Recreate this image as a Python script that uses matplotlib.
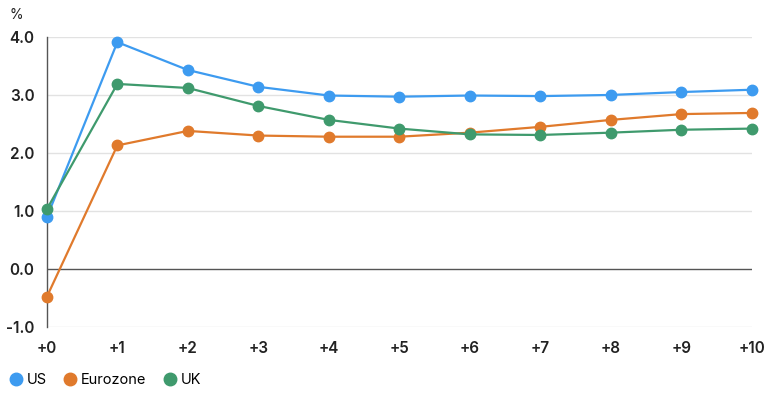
import numpy as np
import matplotlib.pyplot as plt
from matplotlib.lines import Line2D

plt.rcParams['font.family'] = ['Inter', 'DejaVu Sans']

# ── Dati ─────────────────────────────────────────────────────────
years = ["+0", "+1", "+2", "+3", "+4", "+5", "+6", "+7", "+8", "+9", "+10"]
us = [0.89, 3.91, 3.43, 3.14, 2.99, 2.97, 2.99, 2.98, 3.00, 3.05, 3.09]
eurozone = [-0.48, 2.13, 2.38, 2.30, 2.28, 2.28, 2.35, 2.45, 2.57, 2.67, 2.69]
uk = [1.03, 3.19, 3.12, 2.81, 2.57, 2.42, 2.32, 2.31, 2.35, 2.40, 2.42]
yticks = [-1.0, 0.0, 1.0, 2.0, 3.0, 4.0]

series = [
    ("US", us, "#3d9bf0"),
    ("Eurozone", eurozone, "#e07a2c"),
    ("UK", uk, "#3f9a6d"),
]

fig = plt.figure(figsize=(7.68, 3.93), dpi=100)
ax = fig.add_axes([0.061, 0.168, 0.918, 0.738])

x = np.arange(len(years))
for label, vals, color in series:
    ax.plot(x, vals, color=color, linewidth=1.6, marker="o", markersize=7.5,
            clip_on=False, zorder=3, label=label)

ax.set_xlim(0, len(years) - 1)
ax.set_ylim(-1.0, 4.0)
ax.set_yticks(yticks)
ax.set_yticklabels([f"{v:.1f}" for v in yticks])
ax.set_xticks(x)
ax.set_xticklabels(years)

# griglia e assi
for v in yticks:
    if v == 0.0:
        ax.axhline(v, color="#555555", linewidth=1.0, zorder=1)
    else:
        ax.axhline(v, color="#e2e2e2", linewidth=1.0, zorder=1)
for side in ["top", "right", "bottom"]:
    ax.spines[side].set_visible(False)
ax.spines["left"].set_color("#555555")
ax.spines["left"].set_linewidth(1.0)
ax.tick_params(axis="both", length=0, labelsize=11, colors="#222222")
ax.tick_params(axis="y", pad=9)
ax.tick_params(axis="x", pad=10)
for t in ax.get_xticklabels() + ax.get_yticklabels():
    t.set_fontweight("semibold")

fig.text(0.012, 0.962, "%", fontsize=10, color="#222222", va="center")

handles = [Line2D([], [], marker="o", linestyle="", markersize=9, color=c, label=l)
           for l, _, c in series]
fig.legend(handles=handles, loc="lower left", bbox_to_anchor=(-0.008, -0.018),
           ncol=3, frameon=False, fontsize=10.5, handletextpad=0.15,
           columnspacing=1.0, handlelength=1.2)

fig.savefig("out.png", dpi=100)
